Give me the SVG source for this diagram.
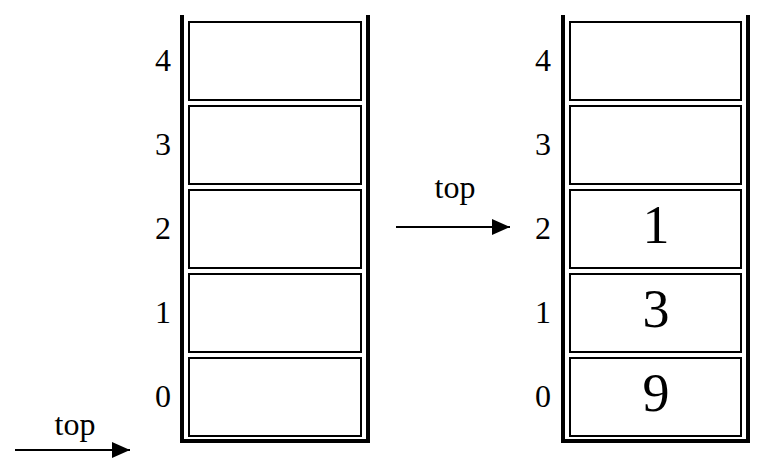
<svg xmlns="http://www.w3.org/2000/svg" width="768" height="470" viewBox="0 0 768 470">
<style>
.wall{fill:none;stroke:#000;stroke-width:4;stroke-linejoin:miter}
.cell{fill:#fff;stroke:#000;stroke-width:2}
.idx{font-family:"Liberation Serif",serif;font-size:32px;text-anchor:end;fill:#000}
.val{font-family:"Liberation Serif",serif;font-size:54px;text-anchor:middle;fill:#000}
.lbl{font-family:"Liberation Serif",serif;font-size:32px;text-anchor:middle;fill:#000}
.arr{stroke:#000;stroke-width:2;fill:none}
</style>
<defs>
<marker id="ah" markerWidth="9" markerHeight="8" refX="9" refY="4" orient="auto" markerUnits="strokeWidth">
<path d="M0,0 L9,4 L0,8 Z" fill="#000"/>
</marker>
</defs>
<g id="stack-left">
<path class="wall" d="M182,15 V441 H368 V15"/>
<rect class="cell" x="189" y="22" width="172" height="78"/>
<rect class="cell" x="189" y="106" width="172" height="78"/>
<rect class="cell" x="189" y="190" width="172" height="78"/>
<rect class="cell" x="189" y="274" width="172" height="78"/>
<rect class="cell" x="189" y="358" width="172" height="78"/>
<text class="idx" x="171" y="71">4</text>
<text class="idx" x="171" y="155">3</text>
<text class="idx" x="171" y="239">2</text>
<text class="idx" x="171" y="323">1</text>
<text class="idx" x="171" y="407">0</text>
</g>
<g id="stack-right">
<path class="wall" d="M563,15 V441 H748 V15"/>
<rect class="cell" x="570" y="22" width="171" height="78"/>
<rect class="cell" x="570" y="106" width="171" height="78"/>
<rect class="cell" x="570" y="190" width="171" height="78"/>
<rect class="cell" x="570" y="274" width="171" height="78"/>
<rect class="cell" x="570" y="358" width="171" height="78"/>
<text class="idx" x="551" y="71">4</text>
<text class="idx" x="551" y="155">3</text>
<text class="idx" x="551" y="239">2</text>
<text class="idx" x="551" y="323">1</text>
<text class="idx" x="551" y="407">0</text>
<text class="val" x="656" y="243">1</text>
<text class="val" x="656" y="327">3</text>
<text class="val" x="656" y="411">9</text>
</g>
<g id="connectors">
<line class="arr" x1="15" y1="450" x2="130" y2="450" marker-end="url(#ah)"/>
<line class="arr" x1="396" y1="227" x2="510" y2="227" marker-end="url(#ah)"/>
</g>
<g id="labels">
<text class="lbl" x="75" y="435">top</text>
<text class="lbl" x="455" y="198">top</text>
</g>
</svg>
